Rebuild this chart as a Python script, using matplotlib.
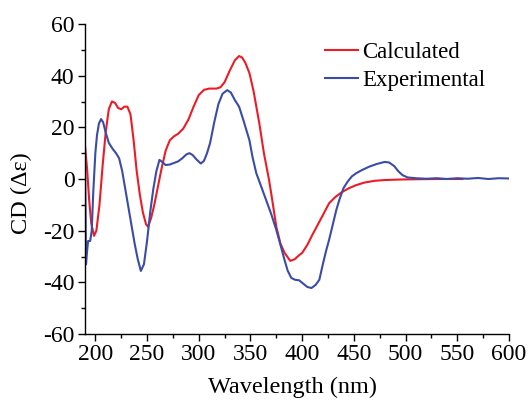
import matplotlib
matplotlib.use("Agg")
import matplotlib.pyplot as plt
from matplotlib.ticker import MultipleLocator

plt.rcParams['font.family'] = ['Liberation Serif', 'DejaVu Serif']
plt.rcParams['axes.unicode_minus'] = False

calc_x = [190, 192, 194, 196, 198.7, 201, 204, 207, 210, 213, 216, 219, 222, 225, 228, 231,
          234, 237, 240, 243, 246, 249, 251, 254, 257, 260, 264, 268, 272, 276, 280, 285,
          290, 295, 300, 305, 310, 317, 321, 325, 330, 335, 339, 342, 345, 349, 353, 358.5,
          363, 368, 371, 375, 379, 383, 388.5, 393, 397, 400, 405, 410, 414, 420, 426, 432,
          438, 445, 452, 460, 470, 480, 495, 510, 530, 555]
calc_y = [13, 4, -8, -17, -22, -20, -10, 5, 18, 27, 30, 29.5, 27.5, 27, 28, 28,
          25, 15, 3, -6, -13, -17.5, -18.5, -15, -10, -4, 4, 11, 15, 16.5, 17.5, 19.5,
          23, 28, 32.5, 34.5, 35, 35, 35.5, 37.5, 42, 46, 47.6, 47, 45, 41, 34, 21.7,
          10, -0.4, -8, -18.5, -25, -28.6, -31.7, -31, -29.5, -28.6, -25.5, -21.5, -18.5, -14, -9.4, -7,
          -5.2, -3.6, -2.4, -1.4, -0.7, -0.4, -0.2, -0.1, 0, 0]

exp_x = [190, 191, 192, 193, 195, 196.5, 198, 200, 201.6, 203.5, 205.5, 207.5, 210, 213, 217,
         220, 223, 226, 229, 232, 235, 238, 241, 244, 247, 250, 253, 256, 259, 262, 265,
         268, 272, 276, 280, 284, 288, 291, 294, 298, 302, 305, 308, 311, 315, 319, 323,
         327.5, 331, 335, 339, 343, 346, 349, 352, 355.6, 360, 365, 370, 375, 379, 383,
         386, 389.5, 393, 397, 401, 405, 409, 413, 416.6, 420, 423, 426, 430, 433, 436,
         440, 444, 448, 452.5, 458, 465, 472, 479.6, 484, 489, 493, 497, 502, 510, 520,
         530, 540, 550, 560, 570, 580, 590, 600]
exp_y = [10, -33, -28, -24, -24, -20, -5, 10, 17, 21.5, 23.2, 22, 18, 14, 11.5,
         10, 8, 3, -4, -11, -18, -25, -31, -35.6, -33, -24, -13, -4, 3, 7.4, 6.5,
         5.4, 5.6, 6.2, 6.8, 8, 9.5, 10, 9.3, 7.5, 6, 7, 10, 14, 22, 29, 33,
         34.4, 33.5, 30.5, 28, 23, 19, 15, 8.5, 2.3, -2.5, -8, -13.5, -19.7, -25.5, -31.4,
         -35.5, -38.3, -39, -39.2, -40.5, -41.8, -42.2, -41, -39, -33, -28, -23.6, -17, -12, -8,
         -3.5, -1, 1, 2.3, 3.5, 4.8, 5.8, 6.6, 6.4, 5, 3, 1.5, 0.6, 0.3, 0.1,
         0.3, 0, 0.3, 0.1, 0.4, 0, 0.3, 0.2]

fig = plt.figure(figsize=(5.31, 4.01), dpi=100)
ax = fig.add_axes([85/531, 1 - 334/401, (509-85)/531, (334-24)/401])

ax.plot(calc_x, calc_y, color='#EC1C26', lw=1.5, label='Calculated')
ax.plot(exp_x, exp_y, color='#3A4CA6', lw=1.5, label='Experimental')

ax.set_xlim(190, 600)
ax.set_ylim(-60, 60)
ax.xaxis.set_major_locator(MultipleLocator(50))
ax.xaxis.set_minor_locator(MultipleLocator(25))
ax.yaxis.set_major_locator(MultipleLocator(20))
ax.yaxis.set_minor_locator(MultipleLocator(10))
ax.set_xticks(range(200, 601, 50))
for s in ['top', 'right']:
    ax.spines[s].set_visible(False)
for s in ['left', 'bottom']:
    ax.spines[s].set_linewidth(1.0)
ax.tick_params(which='major', direction='out', length=5, width=1.0, labelsize=17, pad=2.5)
ax.tick_params(which='minor', direction='out', length=3, width=1.0)

ax.set_xlabel('Wavelength (nm)', fontsize=17.5)
ax.set_ylabel('CD (Δε)', fontsize=17.5)
ax.xaxis.set_label_coords(0.49, -0.138)
ax.yaxis.set_label_coords(-0.125, 0.455)

ax.legend(loc='upper left', bbox_to_anchor=(0.566, 0.943), frameon=False, fontsize=16.5,
          borderpad=0, borderaxespad=0, handlelength=1.44, handletextpad=0.17,
          labelspacing=0.33)

fig.savefig('out.png', dpi=100)
